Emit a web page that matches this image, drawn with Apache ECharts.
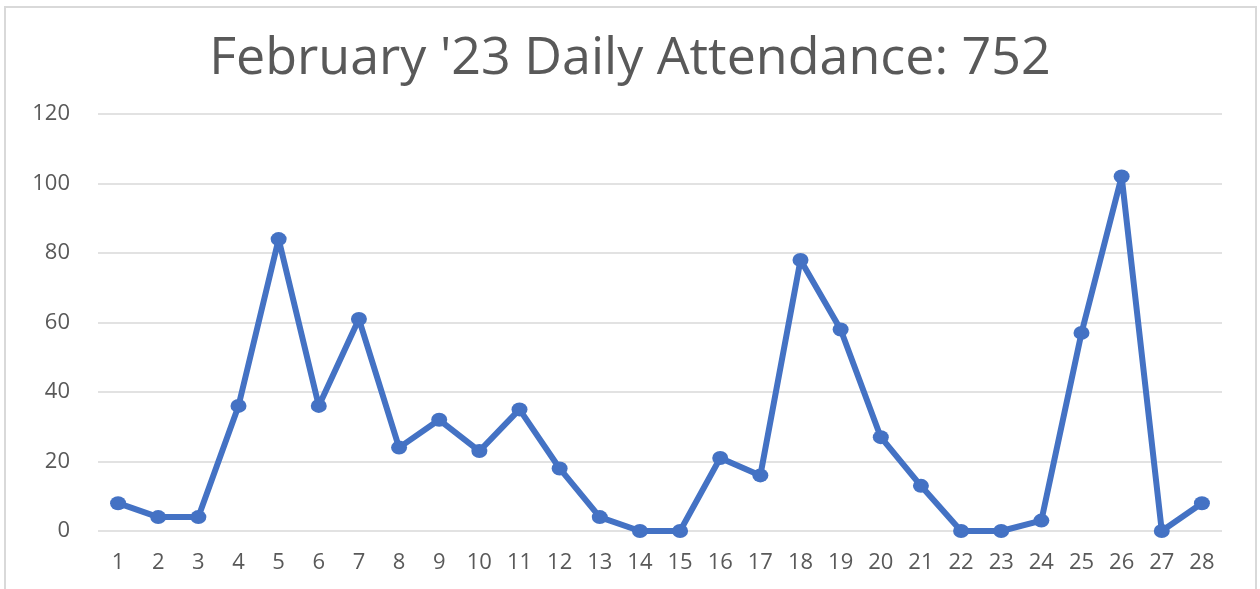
<!DOCTYPE html>
<html>
<head>
<meta charset="utf-8">
<script src="https://cdn.jsdelivr.net/npm/echarts@6/dist/echarts.min.js"></script>
<style>
  html, body { margin: 0; padding: 0; background: #fff; }
  #chart { width: 1260px; height: 589px; }
</style>
</head>
<body>
<div id="chart"></div>
<script>
// days of February 2023
const days = ['1','2','3','4','5','6','7','8','9','10','11','12','13','14',
  '15','16','17','18','19','20','21','22','23','24','25','26','27','28'];
// daily attendance (sums to 752)
const attendance = [8, 4, 4, 36, 84, 36, 61, 24, 32, 23, 35, 18, 4, 0,
  0, 21, 16, 78, 58, 27, 13, 0, 0, 3, 57, 102, 0, 8];
const yTicks = [0, 20, 40, 60, 80, 100, 120];

const chart = echarts.init(document.getElementById('chart'));
chart.setOption({
  backgroundColor: '#fff',
  animation: false,
  title: {
    text: "February '23 Daily Attendance: 752",
    left: 'center',
    top: 28,
    textStyle: {
      fontFamily: 'Open Sans',
      fontSize: 52,
      fontWeight: 'normal',
      color: '#595959'
    }
  },
  graphic: [{
    type: 'rect',
    shape: { x: 5, y: 7, width: 1251, height: 600 },
    style: { fill: 'none', stroke: '#d9d9d9', lineWidth: 2 },
    silent: true
  }],
  grid: { left: 98, right: 38, top: 114, bottom: 58 },
  xAxis: {
    type: 'category',
    data: days,
    boundaryGap: true,
    axisLine: { show: false },
    axisTick: { show: false },
    axisLabel: {
      interval: 0,
      margin: 21,
      fontFamily: 'Open Sans',
      fontSize: 22,
      color: '#595959'
    }
  },
  yAxis: {
    type: 'value',
    min: yTicks[0],
    max: yTicks[yTicks.length - 1],
    interval: 20,
    axisLine: { show: false },
    axisTick: { show: false },
    axisLabel: {
      margin: 28,
      fontFamily: 'Open Sans',
      fontSize: 22,
      color: '#595959'
    },
    splitLine: { lineStyle: { color: '#d9d9d9', width: 1.5 } }
  },
  series: [{
    type: 'line',
    data: attendance,
    symbol: 'circle',
    symbolSize: [16, 14],
    lineStyle: { color: '#4472c4', width: 6 },
    itemStyle: { color: '#4472c4' }
  }]
});
</script>
</body>
</html>
